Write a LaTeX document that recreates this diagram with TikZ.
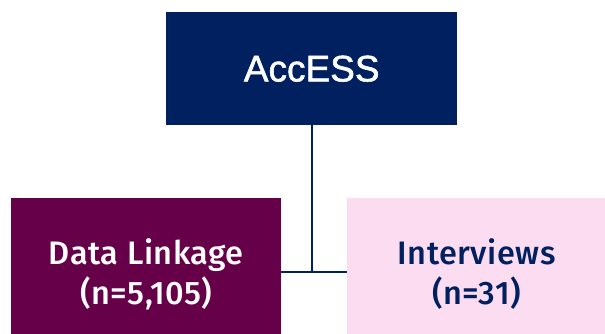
\documentclass[tikz,border=0pt]{standalone}
\usepackage{fontspec}
\setmainfont{Fira Sans Medium}[LetterSpace=1.5]
\newfontfamily\topfont{Liberation Sans}[FakeBold=1.4]
\definecolor{navy}{HTML}{002060}
\definecolor{plum}{HTML}{660048}
\definecolor{pinkbg}{HTML}{FCDCF0}
\tikzset{
  boxstyle/.style={rectangle, inner sep=0pt, anchor=north west},
  linkline/.style={draw=navy, line width=1.5pt},
}
\begin{document}
\begin{tikzpicture}[x=1pt,y=-1pt]
\useasboundingbox (0,0) rectangle (605,333);
\node[boxstyle, fill=navy, minimum width=291pt, minimum height=113pt] (top) at (166,12) {};
\node[text=white, font=\topfont\fontsize{37}{44}\selectfont] (toplabel) at (top.center) {AccESS};
\node[boxstyle, fill=plum, minimum width=270pt, minimum height=136pt] (left) at (11,198) {};
\node[text=white, align=center, font=\fontsize{32.5}{40}\selectfont] (leftlabel) at ([yshift=-8pt]left.center) {Data Linkage\\(n=5,105)};
\node[boxstyle, fill=pinkbg, minimum width=259pt, minimum height=136pt] (right) at (347,198) {};
\node[text=navy, align=center, font=\fontsize{32.5}{40}\selectfont] (rightlabel) at ([yshift=-8pt]right.center) {Interviews\\(n=31)};
\coordinate (join) at (312,272);
\draw[linkline] (top.south -| join) -- (join);
\draw[linkline] (left.east |- join) -- (right.west |- join);
\end{tikzpicture}
\end{document}
